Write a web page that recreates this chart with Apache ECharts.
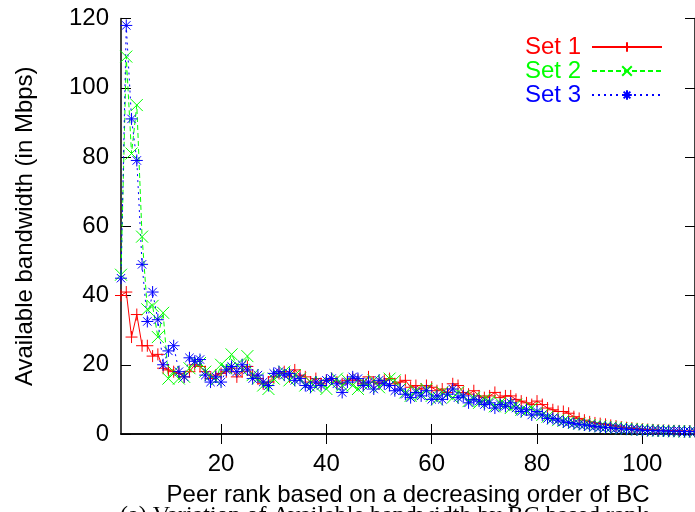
<!DOCTYPE html>
<html>
<head>
<meta charset="utf-8">
<title>Available bandwidth vs peer rank</title>
<script src="https://cdn.jsdelivr.net/npm/echarts@6/dist/echarts.min.js"></script>
<style>
  html, body { margin: 0; padding: 0; background: #fff; }
  #chart { width: 695px; height: 512px; }
</style>
</head>
<body>
<div id="chart"></div>
<script>
// peer rank 1..110 (x), bandwidth in Mbps (y)
var set1 = [40, 41, 28, 34.5, 25.5, 25.5, 22.5, 23, 19, 18.5,
            18, 17.5, 16.5, 18, 20, 19.5, 18, 16, 17, 17.5,
            18, 19, 16.5, 18, 19.5, 17, 16, 14.5, 15, 16.5,
            17.5, 18, 16.5, 18.5, 17, 16.5, 15, 16, 14.5, 15.5,
            16, 15, 14.5, 15.5, 16, 15.5, 14.5, 16.5, 15, 14.5,
            15.5, 16, 14.5, 15, 15.5, 13.5, 14, 13, 14, 13.5,
            12.5, 13, 12, 14.5, 14, 12, 11.5, 12.5, 11, 10.5,
            11, 12, 10.5, 11, 11, 10, 9.5, 9, 8.5, 9.5,
            8.5, 7.5, 7, 6.5, 6.5, 6, 5, 4.5, 4, 3.5,
            3.2, 3, 2.8, 2.5, 2.3, 2, 1.8, 1.7, 1.5, 1.4,
            1.3, 1.2, 1.1, 1, 1, 0.9, 0.9, 0.8, 0.8, 0.8];
var set2 = [46, 109, 81, 95, 57, 36, 37, 28, 35, 16,
            18, 16, 16.5, 19, 21, 20.5, 18, 17, 15.5, 20,
            19, 23, 20, 18.5, 22.5, 17, 16, 14, 13, 16,
            17, 18, 15.5, 17, 16, 14, 15, 13.5, 15, 13,
            14.5, 16, 14, 15.5, 14, 13, 15, 14, 15.5, 13.5,
            15, 16, 15.5, 13, 12, 11, 12.5, 11.5, 13, 11,
            10, 12, 11.5, 10.5, 12, 11, 9.5, 10.5, 9, 10,
            9.5, 8, 9, 8.5, 7.5, 8.5, 7, 6.5, 7.5, 6,
            5.5, 5, 4.5, 4, 3.8, 3.5, 3.2, 3, 2.8, 2.6,
            2.4, 2.2, 2, 1.9, 1.8, 1.6, 1.5, 1.4, 1.3, 1.2,
            1.1, 1, 1, 0.9, 0.9, 0.8, 0.8, 0.7, 0.7, 0.7];
var set3 = [45, 118, 91, 79, 49, 32.5, 41, 33, 20, 24,
            25.5, 18, 16.5, 22, 21, 21.5, 17, 15, 16.5, 15,
            18.5, 19.5, 18, 20, 18.5, 16, 17, 15, 14, 17.5,
            18, 17, 17.5, 15.5, 16, 14, 13.5, 15, 14, 15.5,
            16, 14.5, 12, 15, 16.5, 16, 14, 15, 13, 15.5,
            14.5, 14, 12.5, 13, 11.5, 10.5, 12, 11, 12.5, 10,
            11, 10, 11.5, 13, 10.5, 11, 9, 10, 9.5, 8.5,
            9, 7.5, 8.5, 8, 9, 7.5, 6.5, 7, 5.5, 6.5,
            5.5, 4.5, 4.5, 4, 3.5, 3.3, 3, 2.8, 2.6, 2.4,
            2.2, 2, 1.9, 1.8, 1.6, 1.5, 1.4, 1.3, 1.2, 1.1,
            1, 1, 0.9, 0.9, 0.8, 0.8, 0.8, 0.7, 0.7, 0.7];
var xTicks = [20, 40, 60, 80, 100];
var seriesNames = ['Set 1', 'Set 2', 'Set 3'];
var seriesColors = ['#ff0000', '#00ff00', '#0000ff'];

function pairs(vals) {
    return vals.map(function (v, i) { return [i + 1, v]; });
}

// gnuplot style point types
var plusPath = 'path://M0,5L10,5M5,0L5,10';
var crossPath = 'path://M0,0L10,10M0,10L10,0';
var starPath = 'path://M0,5L10,5M5,0L5,10M1.5,1.5L8.5,8.5M1.5,8.5L8.5,1.5';

var font = 'Liberation Sans, Arial, sans-serif';

var chart = echarts.init(document.getElementById('chart'));

function mkSeries(idx, vals, symbol, dash) {
    return {
        name: seriesNames[idx],
        type: 'line',
        data: pairs(vals),
        symbol: symbol,
        symbolSize: 12,
        symbolKeepAspect: true,
        showAllSymbol: true,
        color: seriesColors[idx],
        lineStyle: { color: seriesColors[idx], width: 1, type: dash },
        itemStyle: { color: seriesColors[idx], borderColor: seriesColors[idx], borderWidth: 1 },
        emphasis: { disabled: true }
    };
}

var tickOpts = { show: true, inside: true, length: 10, lineStyle: { color: '#000', width: 1 } };

chart.setOption({
    animation: false,
    backgroundColor: '#fff',
    grid: { left: 121, right: -2, top: 18.5, bottom: 77.5 },
    legend: {
        orient: 'vertical',
        right: 27,
        top: 30,
        align: 'right',
        itemWidth: 70,
        itemHeight: 12,
        itemGap: 0,
        textStyle: { fontFamily: font, fontSize: 24, lineHeight: 24, padding: [0, 6, 0, 0] },
        data: seriesNames.map(function (n, i) {
            return { name: n, textStyle: { color: seriesColors[i] } };
        })
    },
    xAxis: [{
        type: 'value',
        min: 1,
        max: 110,
        name: 'Peer rank based on a decreasing order of BC',
        nameLocation: 'middle',
        nameGap: 49,
        nameTextStyle: { fontFamily: font, fontSize: 24, color: '#000' },
        axisLine: { lineStyle: { color: '#000', width: 1.5 } },
        axisTick: Object.assign({ customValues: xTicks }, tickOpts),
        axisLabel: { customValues: xTicks, margin: 18, fontFamily: font, fontSize: 24, color: '#000' },
        splitLine: { show: false }
    }, {
        type: 'value',
        position: 'top',
        min: 1,
        max: 110,
        axisLine: { lineStyle: { color: '#000', width: 1.5 } },
        axisTick: Object.assign({ customValues: xTicks }, tickOpts),
        axisLabel: { show: false },
        splitLine: { show: false }
    }],
    yAxis: [{
        type: 'value',
        min: 0,
        max: 120,
        interval: 20,
        name: 'Available bandwidth (in Mbps)',
        nameLocation: 'middle',
        nameGap: 84,
        nameTextStyle: { fontFamily: font, fontSize: 24, color: '#000' },
        axisLine: { show: true, lineStyle: { color: '#000', width: 1.5 } },
        axisTick: tickOpts,
        axisLabel: { margin: 12, fontFamily: font, fontSize: 24, color: '#000' },
        splitLine: { show: false }
    }, {
        type: 'value',
        position: 'right',
        min: 0,
        max: 120,
        interval: 20,
        axisLine: { show: true, lineStyle: { color: '#000', width: 1.5 } },
        axisTick: tickOpts,
        axisLabel: { show: false },
        splitLine: { show: false }
    }],
    graphic: [{
        type: 'text',
        left: 120,
        top: 504,
        style: {
            text: '(a) Variation of Available bandwidth by BC based rank',
            font: '24px "Liberation Serif", "DejaVu Serif", serif',
            fill: '#000'
        }
    }],
    series: [
        mkSeries(0, set1, plusPath, 'solid'),
        mkSeries(1, set2, crossPath, [5, 3]),
        mkSeries(2, set3, starPath, [2, 4])
    ]
});
</script>
</body>
</html>
